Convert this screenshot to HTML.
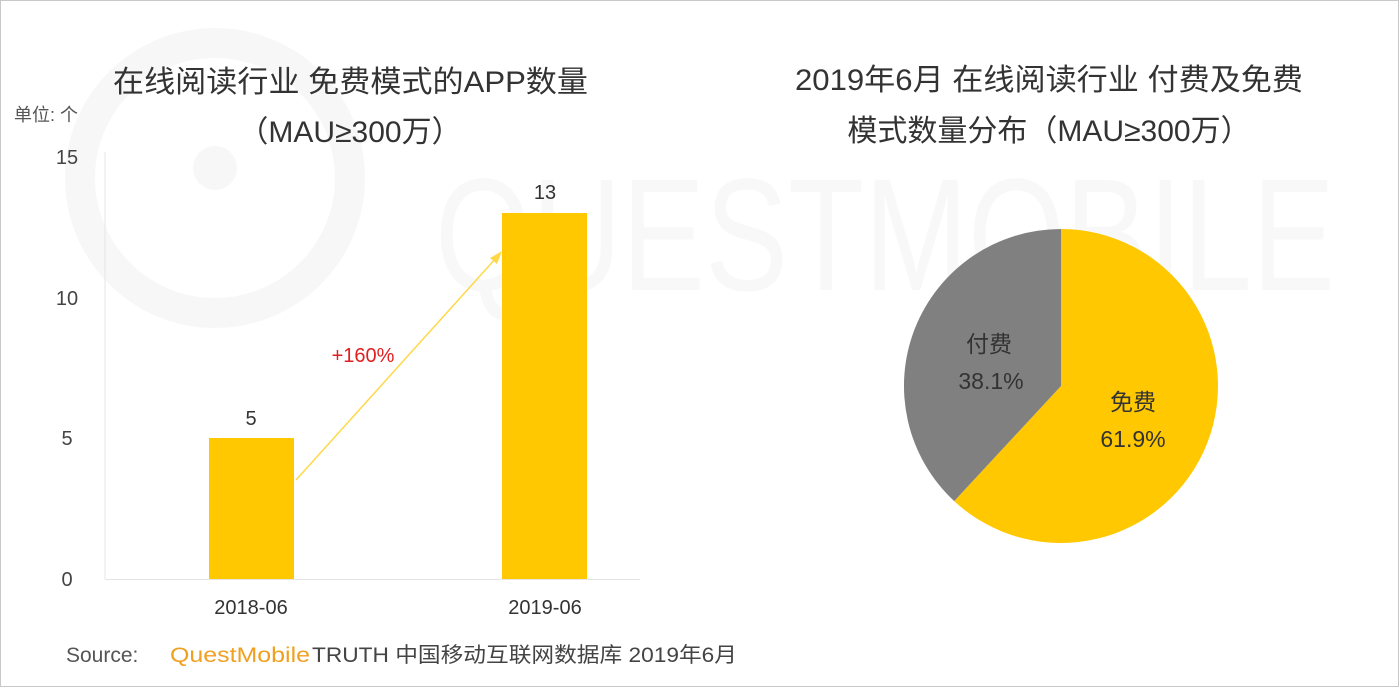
<!DOCTYPE html>
<html><head><meta charset="utf-8"><style>
body{margin:0;background:#fff;}
svg text{font-family:"Liberation Sans","Noto Sans CJK SC",sans-serif;}
</style></head><body>
<svg width="1399" height="688" viewBox="0 0 1399 688" xmlns="http://www.w3.org/2000/svg">
<rect x="0.5" y="0.5" width="1398" height="686" fill="#fff" stroke="#c8c8c8"/>
<!-- watermark -->
<g opacity="0.45">
<circle cx="215" cy="178" r="135" fill="none" stroke="#eeeeee" stroke-width="30"/>
<circle cx="215" cy="168" r="22" fill="#eeeeee"/>
<text x="435" y="290" font-size="160" fill="#f0f0f0" textLength="900" lengthAdjust="spacingAndGlyphs">QUESTMOBILE</text>
</g>
<!-- left title -->
<text x="113" y="92" font-size="30" fill="#333" textLength="475" lengthAdjust="spacingAndGlyphs">在线阅读行业 免费模式的APP数量</text>
<text x="350" y="142" font-size="30" fill="#333" text-anchor="middle">（MAU≥300万）</text>
<text x="14" y="121" font-size="18" fill="#555">单位: 个</text>
<!-- axes -->
<line x1="105" y1="152" x2="105" y2="579" stroke="#e4e4e4"/>
<line x1="105" y1="579.5" x2="640" y2="579.5" stroke="#e4e4e4"/>
<g font-size="20" fill="#444" text-anchor="middle">
<text x="67" y="164">15</text><text x="67" y="305">10</text><text x="67" y="445">5</text><text x="67" y="586">0</text>
</g>
<rect x="209" y="438" width="85" height="141" fill="#ffc800"/>
<rect x="502" y="213" width="85" height="366" fill="#ffc800"/>
<g font-size="20" fill="#333" text-anchor="middle">
<text x="251" y="425">5</text><text x="545" y="199">13</text>
<text x="251" y="614">2018-06</text><text x="545" y="614">2019-06</text>
</g>
<line x1="296" y1="480" x2="497" y2="257" stroke="#ffd84a" stroke-width="1.5"/>
<polygon points="502,251 490,258 497,264" fill="#ffd84a"/>
<text x="363" y="362" font-size="20" fill="#e02020" text-anchor="middle">+160%</text>
<!-- right title -->
<text x="795" y="90" font-size="30" fill="#333" textLength="508" lengthAdjust="spacingAndGlyphs">2019年6月 在线阅读行业 付费及免费</text>
<text x="1049" y="141" font-size="30" fill="#333" text-anchor="middle">模式数量分布（MAU≥300万）</text>
<!-- pie -->
<path d="M1061,386 L1061,229 A157,157 0 1 1 954.2,501.1 Z" fill="#ffc800"/>
<path d="M1061,386 L954.2,501.1 A157,157 0 0 1 1061,229 Z" fill="#808080"/>
<g font-size="23" fill="#333" text-anchor="middle">
<text x="989" y="352">付费</text><text x="991" y="389">38.1%</text>
<text x="1133" y="410">免费</text><text x="1133" y="447">61.9%</text>
</g>
<!-- source -->
<text x="66" y="662" font-size="21" fill="#555">Source:</text>
<text x="170" y="662" font-size="21" fill="#f0a020" textLength="140" lengthAdjust="spacingAndGlyphs">QuestMobile</text>
<text x="312" y="662" font-size="21" fill="#444" textLength="425" lengthAdjust="spacingAndGlyphs">TRUTH 中国移动互联网数据库 2019年6月</text>
</svg>
</body></html>
